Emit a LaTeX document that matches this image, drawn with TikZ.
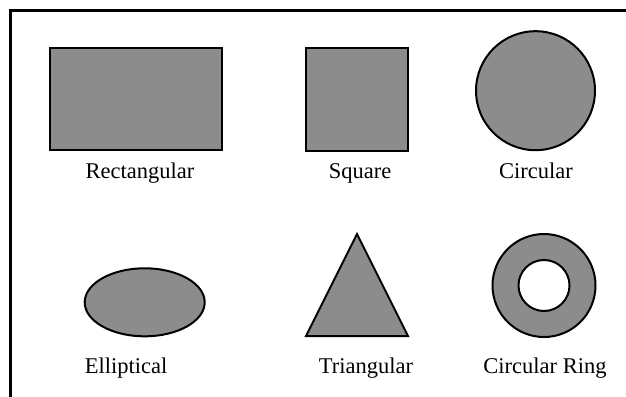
\documentclass[tikz,border=0pt]{standalone}
\usepackage{fontspec}
\setmainfont{Liberation Serif}
\usetikzlibrary{shapes.geometric}
\tikzset{
  part/.style={draw=black, line width=2pt, fill=black!45, inner sep=0pt},
  hole/.style={draw=black, line width=2pt, fill=white, circle, inner sep=0pt},
  caption/.style={font=\fontsize{22.5}{26}\selectfont, anchor=base, inner sep=0pt},
  frame/.style={draw=black, line width=3pt}
}

\begin{document}
\begin{tikzpicture}[x=1pt, y=-1pt]
  \useasboundingbox (0,0) rectangle (626,396);
  \clip (0,0) rectangle (626,396);
  \draw[frame] (10.5,11) rectangle (700,500);

  % top row
  \node[part, rectangle, minimum width=172pt, minimum height=102pt] (rect) at (136,99) {};
  \node[part, rectangle, minimum width=102pt, minimum height=102pt] (square) at (357,99.5) {};
  \node[part, circle, minimum size=119pt] (circ) at (535.5,90.7) {};

  \node[caption] (rectlbl) at (140,178) {Rectangular};
  \node[caption] (squarelbl) at (360,178) {Square};
  \node[caption] (circlbl) at (536,178) {Circular};

  % bottom row
  \node[part, ellipse, minimum width=120pt, minimum height=68pt] (ell) at (144.7,302.3) {};
  \coordinate (apex) at (357,234);
  \coordinate (baseL) at (306,336);
  \coordinate (baseR) at (408,336);
  \draw[part, line join=miter] (apex) -- (baseL) -- (baseR) -- cycle;
  \node[part, circle, minimum size=103pt] (ring) at (544,285.5) {};
  \node[hole, minimum size=51pt] (ringhole) at (ring) {};

  \node[caption] (elllbl) at (126,373.5) {Elliptical};
  \node[caption] (trilbl) at (366,373) {Triangular};
  \node[caption] (ringlbl) at (545,373) {Circular Ring};
\end{tikzpicture}
\end{document}
